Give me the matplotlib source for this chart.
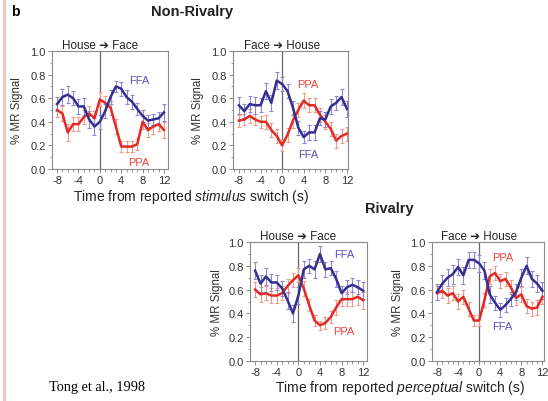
import matplotlib

matplotlib.use("Agg")
import matplotlib.pyplot as plt
import numpy as np
from matplotlib.ticker import MultipleLocator

plt.rcParams["font.family"] = ["Liberation Sans", "DejaVu Sans"]
plt.rcParams["mathtext.fontset"] = "custom"
plt.rcParams["mathtext.it"] = "Liberation Sans:italic"
plt.rcParams["mathtext.rm"] = "Liberation Sans"
plt.rcParams["axes.unicode_minus"] = False

# time from switch (s)
time_s = list(range(-8, 13))

# non-rivalry, house -> face
nr_hf_ffa = [0.55, 0.61, 0.63, 0.60, 0.53, 0.53, 0.42, 0.36, 0.40, 0.49, 0.61, 0.70, 0.68, 0.61, 0.57, 0.51, 0.45, 0.41, 0.42, 0.43, 0.48]
nr_hf_ppa = [0.50, 0.47, 0.31, 0.38, 0.38, 0.44, 0.47, 0.43, 0.59, 0.56, 0.52, 0.36, 0.19, 0.19, 0.19, 0.21, 0.40, 0.33, 0.36, 0.38, 0.33]
nr_hf_ffa_err = [0.06, 0.07, 0.07, 0.06, 0.06, 0.07, 0.07, 0.07, 0.06, 0.06, 0.06, 0.05, 0.06, 0.06, 0.06, 0.05, 0.05, 0.05, 0.05, 0.05, 0.07]
nr_hf_ppa_err = [0.06, 0.06, 0.07, 0.06, 0.06, 0.06, 0.06, 0.06, 0.06, 0.06, 0.06, 0.06, 0.05, 0.05, 0.05, 0.05, 0.06, 0.06, 0.06, 0.06, 0.07]

# non-rivalry, face -> house
nr_fh_ffa = [0.54, 0.49, 0.55, 0.54, 0.54, 0.66, 0.56, 0.75, 0.72, 0.66, 0.52, 0.35, 0.27, 0.31, 0.31, 0.43, 0.42, 0.53, 0.56, 0.61, 0.51]
nr_fh_ppa = [0.41, 0.42, 0.45, 0.42, 0.40, 0.40, 0.33, 0.28, 0.20, 0.29, 0.41, 0.50, 0.58, 0.54, 0.54, 0.46, 0.40, 0.34, 0.24, 0.28, 0.30]
nr_fh_ffa_err = [0.07, 0.06, 0.07, 0.07, 0.06, 0.07, 0.07, 0.07, 0.06, 0.06, 0.06, 0.06, 0.05, 0.06, 0.06, 0.06, 0.06, 0.06, 0.06, 0.07, 0.07]
nr_fh_ppa_err = [0.05, 0.05, 0.06, 0.05, 0.05, 0.06, 0.06, 0.06, 0.05, 0.06, 0.06, 0.06, 0.06, 0.06, 0.06, 0.06, 0.06, 0.06, 0.06, 0.06, 0.06]

# rivalry, house -> face
r_hf_ffa = [0.76, 0.65, 0.71, 0.66, 0.66, 0.61, 0.51, 0.40, 0.55, 0.77, 0.80, 0.77, 0.90, 0.77, 0.78, 0.69, 0.57, 0.62, 0.64, 0.62, 0.59]
r_hf_ppa = [0.60, 0.56, 0.57, 0.55, 0.55, 0.57, 0.63, 0.68, 0.72, 0.61, 0.47, 0.34, 0.30, 0.32, 0.37, 0.45, 0.52, 0.52, 0.52, 0.54, 0.51]
r_hf_ffa_err = [0.07, 0.07, 0.07, 0.07, 0.06, 0.06, 0.07, 0.07, 0.07, 0.07, 0.06, 0.07, 0.07, 0.06, 0.06, 0.07, 0.06, 0.06, 0.06, 0.06, 0.07]
r_hf_ppa_err = [0.06, 0.06, 0.06, 0.06, 0.06, 0.06, 0.06, 0.06, 0.06, 0.06, 0.05, 0.05, 0.04, 0.05, 0.05, 0.06, 0.06, 0.06, 0.06, 0.07, 0.07]

# rivalry, face -> house
r_fh_ffa = [0.58, 0.65, 0.70, 0.73, 0.79, 0.72, 0.85, 0.85, 0.82, 0.76, 0.56, 0.49, 0.43, 0.47, 0.52, 0.58, 0.70, 0.80, 0.69, 0.65, 0.59]
r_fh_ppa = [0.57, 0.59, 0.55, 0.57, 0.50, 0.54, 0.44, 0.34, 0.34, 0.51, 0.71, 0.74, 0.67, 0.69, 0.62, 0.53, 0.56, 0.46, 0.44, 0.45, 0.54]
r_fh_ffa_err = [0.07, 0.07, 0.07, 0.08, 0.07, 0.07, 0.07, 0.07, 0.07, 0.07, 0.07, 0.06, 0.06, 0.06, 0.06, 0.07, 0.07, 0.07, 0.07, 0.07, 0.07]
r_fh_ppa_err = [0.06, 0.06, 0.06, 0.06, 0.06, 0.06, 0.06, 0.05, 0.05, 0.06, 0.06, 0.06, 0.06, 0.06, 0.06, 0.06, 0.06, 0.06, 0.06, 0.06, 0.06]

panel_titles = ["House \u2794 Face", "Face \u2794 House", "House \u2794 Face", "Face \u2794 House"]

FFA_COLOR = "#35308f"
PPA_COLOR = "#e22a26"
FFA_ERR = "#8b88d6"
PPA_ERR = "#f29a88"
FFA_TEXT = "#5a4fc4"
PPA_TEXT = "#e8473c"
SPINE = "#8a8a8a"

W, H = 548, 402
fig = plt.figure(figsize=(W / 100, H / 100), dpi=100)


def px_axes(left, top, right, bottom):
    return fig.add_axes([left / W, 1 - bottom / H, (right - left) / W, (bottom - top) / H])


panels = [
    dict(box=(52, 52, 168, 170), xlim=(-8.95, 12.75), ffa=nr_hf_ffa, ppa=nr_hf_ppa,
         ffa_err=nr_hf_ffa_err, ppa_err=nr_hf_ppa_err,
         ffa_lab=(7.3, 0.75), ppa_lab=(7.3, 0.06), ylab_x=17),
    dict(box=(233, 52, 348, 170), xlim=(-9.1, 12.2), ffa=nr_fh_ffa, ppa=nr_fh_ppa,
         ffa_err=nr_fh_ffa_err, ppa_err=nr_fh_ppa_err,
         ffa_lab=(4.8, 0.13), ppa_lab=(4.8, 0.72), ylab_x=198),
    dict(box=(250, 243, 367, 362), xlim=(-8.95, 12.7), ffa=r_hf_ffa, ppa=r_hf_ppa,
         ffa_err=r_hf_ffa_err, ppa_err=r_hf_ppa_err,
         ffa_lab=(8.4, 0.90), ppa_lab=(8.4, 0.25), ylab_x=217),
    dict(box=(432, 243, 544, 362), xlim=(-8.95, 12.3), ffa=r_fh_ffa, ppa=r_fh_ppa,
         ffa_err=r_fh_ffa_err, ppa_err=r_fh_ppa_err,
         ffa_lab=(4.4, 0.29), ppa_lab=(4.4, 0.87), ylab_x=398),
]

for p, title in zip(panels, panel_titles):
    left, top, right, bottom = p["box"]
    ax = px_axes(left, top, right, bottom)
    ax.axvline(0, color="#666666", lw=0.9, zorder=1)
    ax.errorbar(time_s, p["ppa"], yerr=p["ppa_err"], fmt="none", ecolor=PPA_ERR,
                elinewidth=0.8, capsize=1.5, capthick=0.8, zorder=2)
    ax.errorbar(time_s, p["ffa"], yerr=p["ffa_err"], fmt="none", ecolor=FFA_ERR,
                elinewidth=0.8, capsize=1.5, capthick=0.8, zorder=2)
    ax.plot(time_s, p["ppa"], color=PPA_COLOR, lw=1.8, zorder=3)
    ax.plot(time_s, p["ffa"], color=FFA_COLOR, lw=1.8, zorder=4)
    ax.text(*p["ffa_lab"], "FFA", color=FFA_TEXT, fontsize=8, ha="center", va="center")
    ax.text(*p["ppa_lab"], "PPA", color=PPA_TEXT, fontsize=8, ha="center", va="center")

    ax.set_xlim(*p["xlim"])
    ax.set_ylim(0, 1)
    ax.set_xticks([-8, -4, 0, 4, 8, 12])
    ax.set_yticks([0, 0.2, 0.4, 0.6, 0.8, 1.0])
    ax.set_yticklabels(["0.0", "0.2", "0.4", "0.6", "0.8", "1.0"])
    ax.xaxis.set_minor_locator(MultipleLocator(1))
    ax.yaxis.set_minor_locator(MultipleLocator(0.1))
    ax.tick_params(which="both", direction="out", color=SPINE, labelsize=8, pad=1.5, labelcolor="#333333")
    ax.tick_params(which="major", length=3, width=0.7)
    ax.tick_params(which="minor", length=1.8, width=0.6)
    for sp in ax.spines.values():
        sp.set_color(SPINE)
        sp.set_linewidth(0.8)
    ax.set_title(title, fontsize=8.4, pad=2, color="#222222",
                 x=(0 - p["xlim"][0]) / (p["xlim"][1] - p["xlim"][0]))
    fig.text(p["ylab_x"] / W, 1 - ((top + bottom) / 2) / H, "% MR Signal",
             rotation=90, ha="center", va="center", fontsize=8.3, color="#333333")

fig.text(15 / W, 1 - 12 / H, "b", fontsize=10, fontweight="bold", ha="center", va="center")
fig.text(192 / W, 1 - 12 / H, "Non-Rivalry", fontsize=10.5, fontweight="bold", ha="center", va="center", color="#222222")
fig.text(389 / W, 1 - 209 / H, "Rivalry", fontsize=10.5, fontweight="bold", ha="center", va="center", color="#222222")
fig.text(191 / W, 1 - 197 / H, "Time from reported $\\it{stimulus}$ switch (s)",
         fontsize=10, ha="center", va="center", color="#222222")
fig.text(400 / W, 1 - 388 / H, "Time from reported $\\it{perceptual}$ switch (s)",
         fontsize=10, ha="center", va="center", color="#222222")
fig.text(97 / W, 1 - 388 / H, "Tong et al., 1998", fontsize=10.3, ha="center", va="center",
         family="Liberation Serif")

# pink margin rule on the left
fig.add_artist(plt.Line2D([3.5 / W, 3.5 / W], [0, 1], color="#f8c4ba", lw=2.2))

fig.savefig("out.png", dpi=100)
